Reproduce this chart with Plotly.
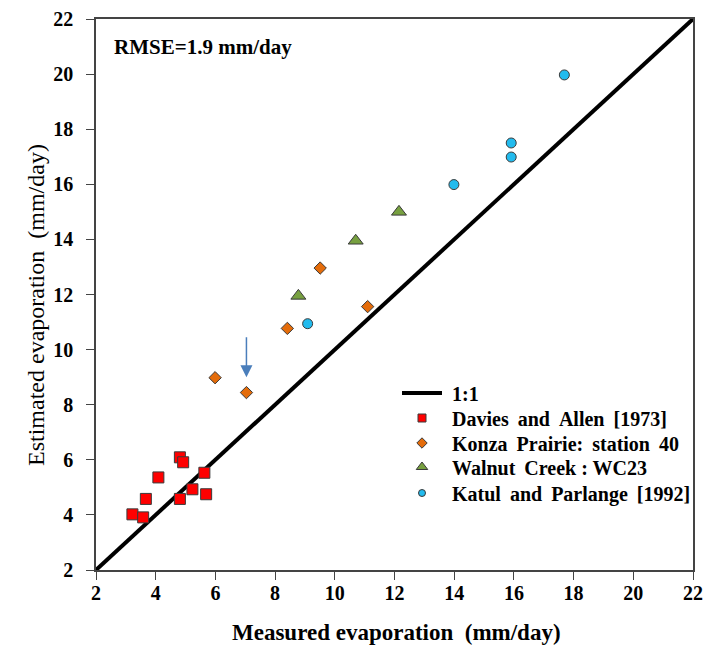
import plotly.graph_objects as go

# Data
davies_x = [3.22, 3.58, 3.67, 4.09, 4.81, 4.92, 5.63, 5.23, 4.81, 5.69]
davies_y = [4.02, 3.91, 4.58, 5.36, 6.09, 5.91, 5.53, 4.93, 4.58, 4.75]
konza_x = [5.99, 7.04, 8.41, 9.51, 11.10]
konza_y = [8.98, 8.44, 10.77, 12.96, 11.56]
walnut_x = [8.78, 10.70, 12.15]
walnut_y = [11.95, 13.95, 15.0]
katul_x = [9.09, 13.99, 15.91, 15.91, 17.69]
katul_y = [10.94, 15.99, 17.5, 16.99, 19.97]
one_to_one = [2, 22]
tick_vals = [2, 4, 6, 8, 10, 12, 14, 16, 18, 20, 22]
arrow_x = 7.04
arrow_from = 10.5
arrow_to = 9.0

FONT = "'Liberation Serif', 'Times New Roman', serif"
OUT = "#3a3a3a"
W, H = 712, 646
L, R, T, B = 96, 19, 19, 76
PW, PH = W - L - R, H - T - B


def px_x(p):
    return (p - L) / PW


def px_y(p):
    return 1 - (p - T) / PH


SP = " \u2009"
series = [
    (SP.join(["Davies", "and", "Allen", "[1973]"]), davies_x, davies_y, "square", 11, 8, "#ff0000"),
    (SP.join(["Konza", "Prairie:", "station", "40"]), konza_x, konza_y, "diamond", 9.5, 8, "#e46c0a"),
    ("Walnut" + SP + "Creek : WC23", walnut_x, walnut_y, "triangle-up", 13, 10, "#77a040"),
    (SP.join(["Katul", "and", "Parlange", "[1992]"]), katul_x, katul_y, "circle", 10, 7, "#22bbee"),
]
legend_rows = [418, 443, 467, 493]

fig = go.Figure()
fig.add_trace(go.Scatter(x=one_to_one, y=one_to_one, mode="lines",
                         line=dict(color="black", width=4), name="\u00a0<b>1:1</b>", legend="legend"))
for name, xs, ys, sym, size, lsize, col in series:
    fig.add_trace(go.Scatter(x=xs, y=ys, mode="markers", name=name, showlegend=False,
                             marker=dict(symbol=sym, size=size, color=col,
                                         line=dict(color=OUT, width=1))))
for i, (name, xs, ys, sym, size, lsize, col) in enumerate(series):
    fig.add_trace(go.Scatter(x=[None], y=[None], mode="markers", name="\u00a0<b>" + name + "</b>",
                             legend="legend%d" % (i + 2),
                             marker=dict(symbol=sym, size=lsize, color=col,
                                         line=dict(color=OUT, width=1))))

fig.add_annotation(x=arrow_x, y=arrow_to, ax=arrow_x, ay=arrow_from, xref="x", yref="y",
                   axref="x", ayref="y", showarrow=True, arrowhead=2, arrowsize=1.6,
                   arrowwidth=1.5, arrowcolor="#4a7ebb", text="")
fig.add_annotation(x=px_x(112), y=px_y(47), xref="paper", yref="paper",
                   xanchor="left", yanchor="middle", showarrow=False,
                   text="<b>RMSE=1.9 mm/day</b>", font=dict(family=FONT, size=21, color="black"))
fig.add_annotation(x=px_x(36), y=px_y(305), xref="paper", yref="paper",
                   xanchor="center", yanchor="middle", showarrow=False, textangle=-90,
                   text="Estimated evaporation  (mm/day)",
                   font=dict(family=FONT, size=24, color="black"))
fig.add_annotation(x=px_x(396), y=px_y(632), xref="paper", yref="paper",
                   xanchor="center", yanchor="middle", showarrow=False,
                   text="<b>Measured evaporation  (mm/day)</b>",
                   font=dict(family=FONT, size=23, color="black"))

axis_common = dict(range=[2, 22], tickvals=tick_vals,
                   ticktext=["<b>%d</b>" % v for v in tick_vals],
                   ticks="outside", ticklen=8, automargin=False,
                   tickwidth=1, tickcolor="#444", showline=True, linecolor="#444",
                   linewidth=1.5, mirror=True, showgrid=False, zeroline=False,
                   tickfont=dict(family=FONT, size=20, color="black"))

legends = dict(
    legend=dict(x=px_x(397), y=px_y(393), xanchor="left", yanchor="middle",
                bgcolor="rgba(0,0,0,0)", itemwidth=40,
                font=dict(family=FONT, size=20, color="black"), itemsizing="trace"),
)
for i, yy in enumerate(legend_rows):
    legends["legend%d" % (i + 2)] = dict(
        x=px_x(397), y=px_y(yy), xanchor="left", yanchor="middle",
        bgcolor="rgba(0,0,0,0)", itemwidth=40,
        font=dict(family=FONT, size=20, color="black"), itemsizing="trace")

fig.update_layout(
    width=W, height=H,
    margin=dict(l=L, r=R, t=T, b=B, autoexpand=False),
    font=dict(family=FONT, color="black"),
    paper_bgcolor="white", plot_bgcolor="white",
    xaxis=dict(**axis_common, ticklabelstandoff=-4),
    yaxis=dict(**axis_common, ticklabelstandoff=9),
    showlegend=True,
    **legends,
)
fig.write_html("out.html")
